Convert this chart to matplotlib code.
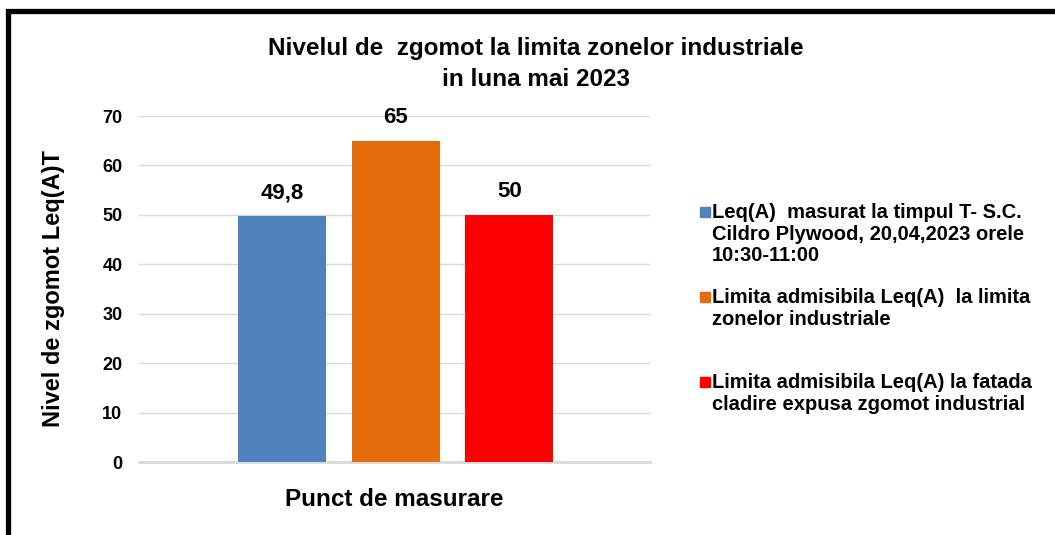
import matplotlib.pyplot as plt
from matplotlib.patches import Rectangle

plt.rcParams['font.family'] = ['Liberation Sans', 'DejaVu Sans']

# data
series = ['Leq(A)  masurat la timpul T- S.C.\nCildro Plywood, 20,04,2023 orele\n10:30-11:00',
          'Limita admisibila Leq(A)  la limita\nzonelor industriale',
          'Limita admisibila Leq(A) la fatada\ncladire expusa zgomot industrial']
values = [49.8, 65, 50]
value_labels = ['49,8', '65', '50']
colors = ['#4f81bd', '#e46c0a', '#ff0000']

fig = plt.figure(figsize=(10.55, 5.35), dpi=100)
ax = fig.add_axes([0.1318, 0.1364, 0.4844, 0.6467])

pos = [-1, 0, 1]
bars = ax.bar(pos, values, width=0.775, color=colors, zorder=3)
for b, lab in zip(bars, value_labels):
    ax.text(b.get_x() + b.get_width() / 2, b.get_height() + 2.6, lab,
            ha='center', va='bottom', fontsize=16, fontweight='bold')

ax.set_xlim(-2.26, 2.24)
ax.set_ylim(0, 70)
ax.set_yticks(range(0, 71, 10))
ax.set_xticks([])
ax.tick_params(axis='y', length=0, labelsize=13, pad=12)
for t in ax.get_yticklabels():
    t.set_fontweight('bold')
ax.grid(axis='y', color='#d9d9d9', linewidth=1, zorder=0)
for s in ['top', 'right', 'left']:
    ax.spines[s].set_visible(False)
ax.spines['bottom'].set_color('#d9d9d9')
ax.spines['bottom'].set_linewidth(2)

ax.set_xlabel('Punct de masurare', fontsize=17.5, fontweight='bold', labelpad=19)
ax.set_ylabel('Nivel de zgomot Leq(A)T', fontsize=17, fontweight='bold', labelpad=27)

fig.text(0.508, 0.93, 'Nivelul de  zgomot la limita zonelor industriale\nin luna mai 2023',
         ha='center', va='top', fontsize=17.5, fontweight='bold', linespacing=1.4)

# legend drawn by hand so the swatch sits on the first line
legend_y = [0.604, 0.445, 0.286]
for lab, c, y in zip(series, colors, legend_y):
    fig.patches.append(Rectangle((0.6635, y - 0.0095), 0.0095, 0.0187,
                                 transform=fig.transFigure, color=c))
    fig.text(0.675, y + 0.016, lab, ha='left', va='top', fontsize=14.5,
             fontweight='bold', linespacing=1.17)

# outer black frame (left and top only)
fig.add_artist(plt.Line2D([0.008, 0.008, 1.0], [0, 0.980, 0.980],
                          transform=fig.transFigure, color='black', linewidth=3.8,
                          solid_joinstyle='miter'))

fig.savefig('out.png', dpi=100)
